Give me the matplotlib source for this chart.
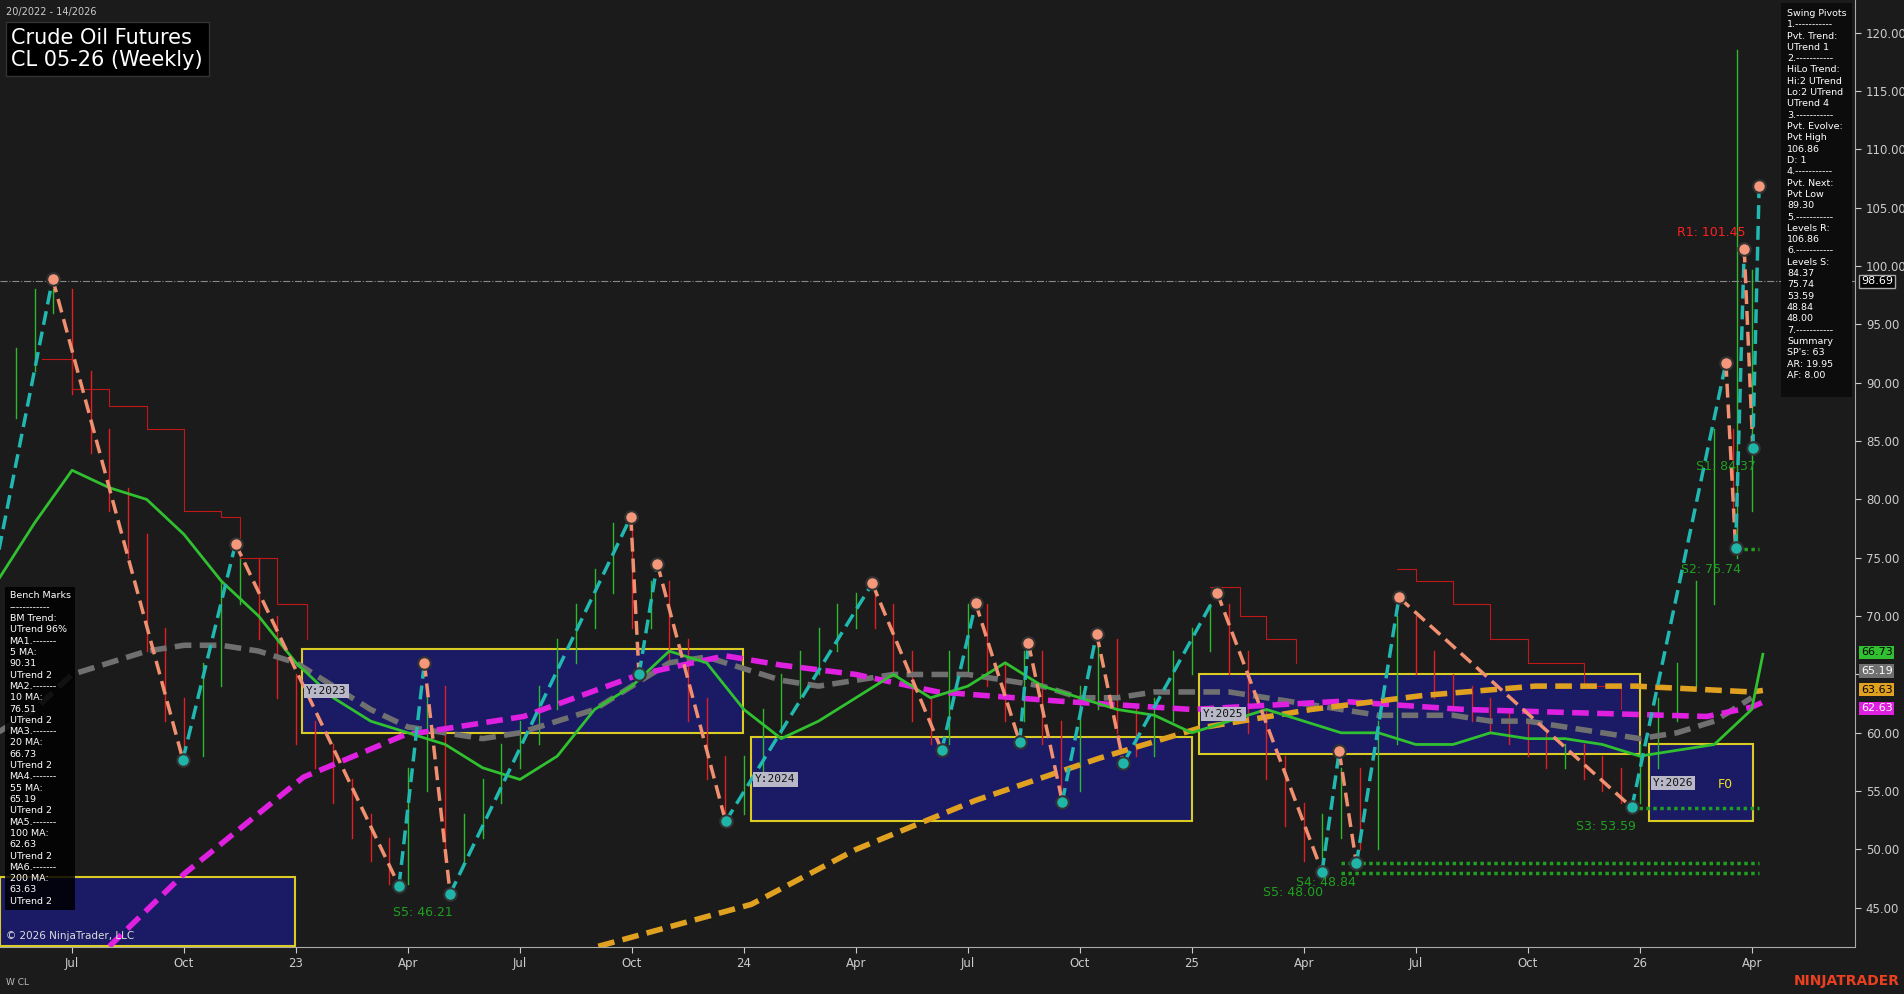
import matplotlib
matplotlib.use("Agg")
import matplotlib.pyplot as plt
import numpy as np

# x = months since Jan 2022
closes = [88, 92, 97, 97, 90, 85, 80, 76, 68, 62, 59, 65, 72, 74, 69, 64, 60, 58, 55, 52,
          50, 48, 56, 63, 50, 52, 55, 58, 60, 63, 67, 70, 73, 77, 70, 72, 67, 62, 57, 54,
          57, 61, 64, 66, 68, 70, 71, 70, 66, 62, 60, 66, 70, 65, 62, 66, 60, 56, 63, 67,
          61, 59, 62, 66, 68, 70, 66, 61, 57, 53, 50, 52, 56, 51, 60, 69, 66, 64, 63, 62,
          61, 60, 59, 58, 58, 57, 56, 55, 58, 62, 65, 72, 85, 80, 98.69]
bar_x = np.arange(4.0, 51.01, 0.5)

piv_x = [5.48, 8.97, 10.38, 14.76, 15.44, 16.13, 20.97, 21.19, 21.68, 23.51, 27.44, 29.30,
         30.21, 31.39, 31.62, 32.53, 33.45, 34.17, 36.68, 39.49, 39.95, 40.41, 41.55, 47.79,
         50.31, 50.57, 50.80, 51.03, 51.20]
piv_v = [98.9, 57.7, 76.2, 46.9, 66.0, 46.2, 78.5, 65.0, 74.5, 52.4, 72.8, 58.5,
         71.1, 59.2, 67.7, 54.1, 68.5, 57.4, 72.0, 48.1, 58.4, 48.8, 71.6, 53.6,
         91.7, 75.8, 101.5, 84.4, 106.9]
piv_hi = [1, 0, 1, 0, 1, 0, 1, 0, 1, 0, 1, 0, 1, 0, 1, 0, 1, 0, 1, 0, 1, 0, 1, 0, 1, 0, 1, 0, 1]

ma_x = list(range(4, 52))
ma20 = [73, 78, 82.5, 81, 80, 77, 73, 70, 66, 63, 61, 60, 59, 57, 56, 58, 62, 64, 67, 66,
        62, 59.5, 61, 63, 65, 63, 64, 66, 64, 63, 62, 61.5, 60, 61, 62, 61, 60, 60, 59, 59,
        60, 59.5, 59.5, 59, 58, 58.5, 59, 62]
ma55 = [60, 62, 65, 66, 67, 67.5, 67.5, 67, 66, 64, 62, 60.5, 60, 59.5, 60, 61, 62, 64, 66, 66.5,
        65.5, 64.5, 64, 64.5, 65, 65, 65, 64.5, 64, 63, 63, 63.5, 63.5, 63.5, 63, 62.5, 62, 61.5,
        61.5, 61.5, 61, 61, 60.5, 60, 59.5, 60, 61, 63]
ma100_x = [7, 9, 12.2, 14.9, 18.1, 21.2, 23.5, 25, 27, 29.2, 32.5, 36, 40, 43.3, 46.5, 49.8, 51, 51.3]
ma100 = [41.7, 47.9, 56.2, 59.8, 61.4, 65, 66.6, 65.8, 65, 63.5, 62.7, 62, 62.7, 62, 61.7, 61.4, 62.2, 62.63]
ma200_x = [20.1, 24.2, 27, 30.2, 33.5, 36.2, 39.2, 42.2, 45.2, 47.9, 51, 51.3]
ma200 = [41.7, 45.3, 50, 54.2, 57.8, 60.4, 62, 63.2, 64, 64, 63.5, 63.63]

stop_x = [5.2, 6, 7, 8, 9, 10, 10.5, 11.5, 12.3]
stop_v = [92, 89.5, 88, 86, 79, 78.5, 75, 71, 68]
stop2_x = [36.5, 37.3, 38, 38.8]
stop2_v = [72.5, 70, 68, 66]
stop3_x = [41.5, 42, 43, 44, 45, 46.5, 47.5]
stop3_v = [74, 73, 71, 68, 66, 64, 62]

boxes = [("Y:2023", 12.17, 23.97, 60.0, 67.2), ("Y:2024", 24.2, 36.0, 52.4, 59.6),
         ("Y:2025", 36.2, 48.0, 58.2, 65.0), ("Y:2026", 48.25, 51.03, 52.4, 59.0),
         ("", 4.07, 11.98, 41.7, 47.6)]

bg = "#1b1b1b"
fig = plt.figure(figsize=(19.04, 9.94), dpi=100, facecolor=bg)
ax = fig.add_axes([0.0, 0.0476, 0.9745, 0.9524], facecolor=bg)
ax.set_xlim(4.07, 53.78)
ax.set_ylim(41.67, 122.8)

for b in boxes:
    ax.add_patch(plt.Rectangle((b[1], b[3]), b[2] - b[1], b[4] - b[3], facecolor="#1a1a6e",
                               edgecolor="#f0e020", lw=1.5, alpha=0.9, zorder=1))
    if b[0]:
        ax.text(b[1] + 0.1, (b[3] + b[4]) / 2, b[0], color="#111", fontsize=8, family="monospace",
                va="center", zorder=6, bbox=dict(fc="#b8b8c8", ec="none", pad=1.5))

prev = closes[0]
for x, c in zip(bar_x, closes):
    col = "#2db82d" if c >= prev else "#e02020"
    ax.plot([x, x], [min(prev, c) - 1, max(prev, c) + 1], color=col, lw=1, zorder=2)
    prev = c
ax.plot([50.6, 50.6], [75, 118.5], color="#2db82d", lw=1, zorder=2)

ax.plot(stop_x, stop_v, color="#c01818", lw=0.8, drawstyle="steps-post", zorder=2)
ax.plot(stop2_x, stop2_v, color="#c01818", lw=0.8, drawstyle="steps-post", zorder=2)
ax.plot(stop3_x, stop3_v, color="#c01818", lw=0.8, drawstyle="steps-post", zorder=2)

ax.plot(ma_x, ma55, color="#707070", lw=4, ls=(0, (3, 1.5)), zorder=3)
ax.plot(ma100_x, ma100, color="#e020e0", lw=4, ls=(0, (3, 1.5)), zorder=3)
ax.plot(ma200_x, ma200, color="#e0a020", lw=4, ls=(0, (3, 1.5)), zorder=3)
ax.plot(ma_x + [51.3], ma20 + [66.73], color="#30c030", lw=2, zorder=3)

ax.axhline(98.69, color="#888", lw=0.8, ls="-.", zorder=2)

ax.plot([4.0, piv_x[0]], [75, piv_v[0]], color="#20b8b0", lw=2.5, ls=(0, (4, 2)), zorder=4)
for i in range(len(piv_x) - 1):
    col = "#f09070" if piv_hi[i] else "#20b8b0"
    ax.plot(piv_x[i:i + 2], piv_v[i:i + 2], color=col, lw=2.5, ls=(0, (4, 2)), zorder=4)
for x, v, h in zip(piv_x, piv_v, piv_hi):
    ax.plot(x, v, "o", ms=9, mfc="#f4977a" if h else "#1fb5a8", mec="#333", mew=1.5, zorder=5)

for y0, x0 in [(48.84, 40.0), (48.0, 40.0), (53.59, 47.8), (75.74, 50.6)]:
    ax.plot([x0, 51.2], [y0, y0], color="#20a020", lw=2.5, ls=(0, (1, 1)), zorder=3)

for txt, x, y, c in [("S5: 46.21", 14.6, 44.6, "#20a020"), ("S5: 48.00", 37.9, 46.3, "#20a020"),
                     ("S4: 48.84", 38.8, 47.2, "#20a020"), ("S3: 53.59", 46.3, 52.0, "#20a020"),
                     ("S2: 75.74", 49.1, 74.0, "#20a020"), ("S1: 84.37", 49.5, 82.8, "#20a020"),
                     ("R1: 101.45", 49.0, 102.9, "#ff2020"), ("F0", 50.1, 55.6, "#f0e020")]:
    ax.text(x, y, txt, color=c, fontsize=9, va="center", zorder=6)

ax.yaxis.tick_right()
yt = np.arange(45, 121, 5)
ax.set_yticks(yt)
# the 65.00 label sits under the value tags, as in the original
ax.set_yticklabels(["" if v == 65 else "%.2f" % v for v in yt])
ax.set_xticks([6, 9, 12, 15, 18, 21, 24, 27, 30, 33, 36, 39, 42, 45, 48, 51])
ax.set_xticklabels(["Jul", "Oct", "23", "Apr", "Jul", "Oct", "24", "Apr", "Jul", "Oct",
                    "25", "Apr", "Jul", "Oct", "26", "Apr"])
ax.tick_params(colors="#cccccc", labelsize=8.5, length=4)
for s in ["top", "left"]:
    ax.spines[s].set_visible(False)
for s in ["right", "bottom"]:
    ax.spines[s].set_color("#aaaaaa")

# right axis value tags (label positions nudged apart so they do not overlap)
for v, pos, c, tc in [(98.69, 98.69, "#000000", "white"), (66.73, 66.9, "#30c030", "black"),
                      (65.19, 65.3, "#707070", "white"), (63.63, 63.7, "#e0a020", "black"),
                      (62.63, 62.1, "#e020e0", "white")]:
    ax.text(1.003, (pos - 41.67) / (122.8 - 41.67), "%.2f" % v, transform=ax.transAxes, color=tc,
            fontsize=8, va="center", ha="left", zorder=7, clip_on=False,
            bbox=dict(fc=c, ec="#aaaaaa" if c == "#000000" else "none", pad=1.2))

# title
fig.text(0.003, 0.988, "20/2022 - 14/2026", color="#cccccc", fontsize=7, va="center")
fig.text(0.006, 0.951, "Crude Oil Futures\nCL 05-26 (Weekly)", color="white", fontsize=15,
         va="center", linespacing=1.15, bbox=dict(fc="#000000", ec="#333", pad=4))

swing = ("Swing Pivots\n1.-----------\nPvt. Trend:\nUTrend 1\n2.-----------\nHiLo Trend:\n"
         "Hi:2 UTrend\nLo:2 UTrend\nUTrend 4\n3.-----------\nPvt. Evolve:\nPvt High\n106.86\nD: 1\n"
         "4.-----------\nPvt. Next:\nPvt Low\n89.30\n5.-----------\nLevels R:\n106.86\n6.-----------\n"
         "Levels S:\n84.37\n75.74\n53.59\n48.84\n48.00\n7.-----------\nSummary\nSP's: 63\n"
         "AR: 19.95\nAF: 8.00\n")
fig.text(0.9385, 0.991, swing, color="white", fontsize=6.8, va="top", linespacing=1.33,
         bbox=dict(fc="#0c0c0c", ec="none", pad=4))

bench = ("Bench Marks\n------------\nBM Trend:\nUTrend 96%\nMA1.-------\n5 MA:\n90.31\nUTrend 2\n"
         "MA2.-------\n10 MA:\n76.51\nUTrend 2\nMA3.-------\n20 MA:\n66.73\nUTrend 2\nMA4.-------\n"
         "55 MA:\n65.19\nUTrend 2\nMA5.-------\n100 MA:\n62.63\nUTrend 2\nMA6.-------\n200 MA:\n"
         "63.63\nUTrend 2")
fig.text(0.005, 0.405, bench, color="white", fontsize=6.8, va="top", linespacing=1.33,
         bbox=dict(fc="#000000", ec="none", alpha=0.85, pad=3))
fig.text(0.003, 0.055, "\u00a9 2026 NinjaTrader, LLC", color="#dddddd", fontsize=7.5)
fig.text(0.003, 0.009, "W CL", color="#bbbbbb", fontsize=6.5)
fig.text(0.998, 0.009, "NINJATRADER", color="#e84020", fontsize=10, ha="right", weight="bold")

fig.savefig("out.png", dpi=100, facecolor=bg)
